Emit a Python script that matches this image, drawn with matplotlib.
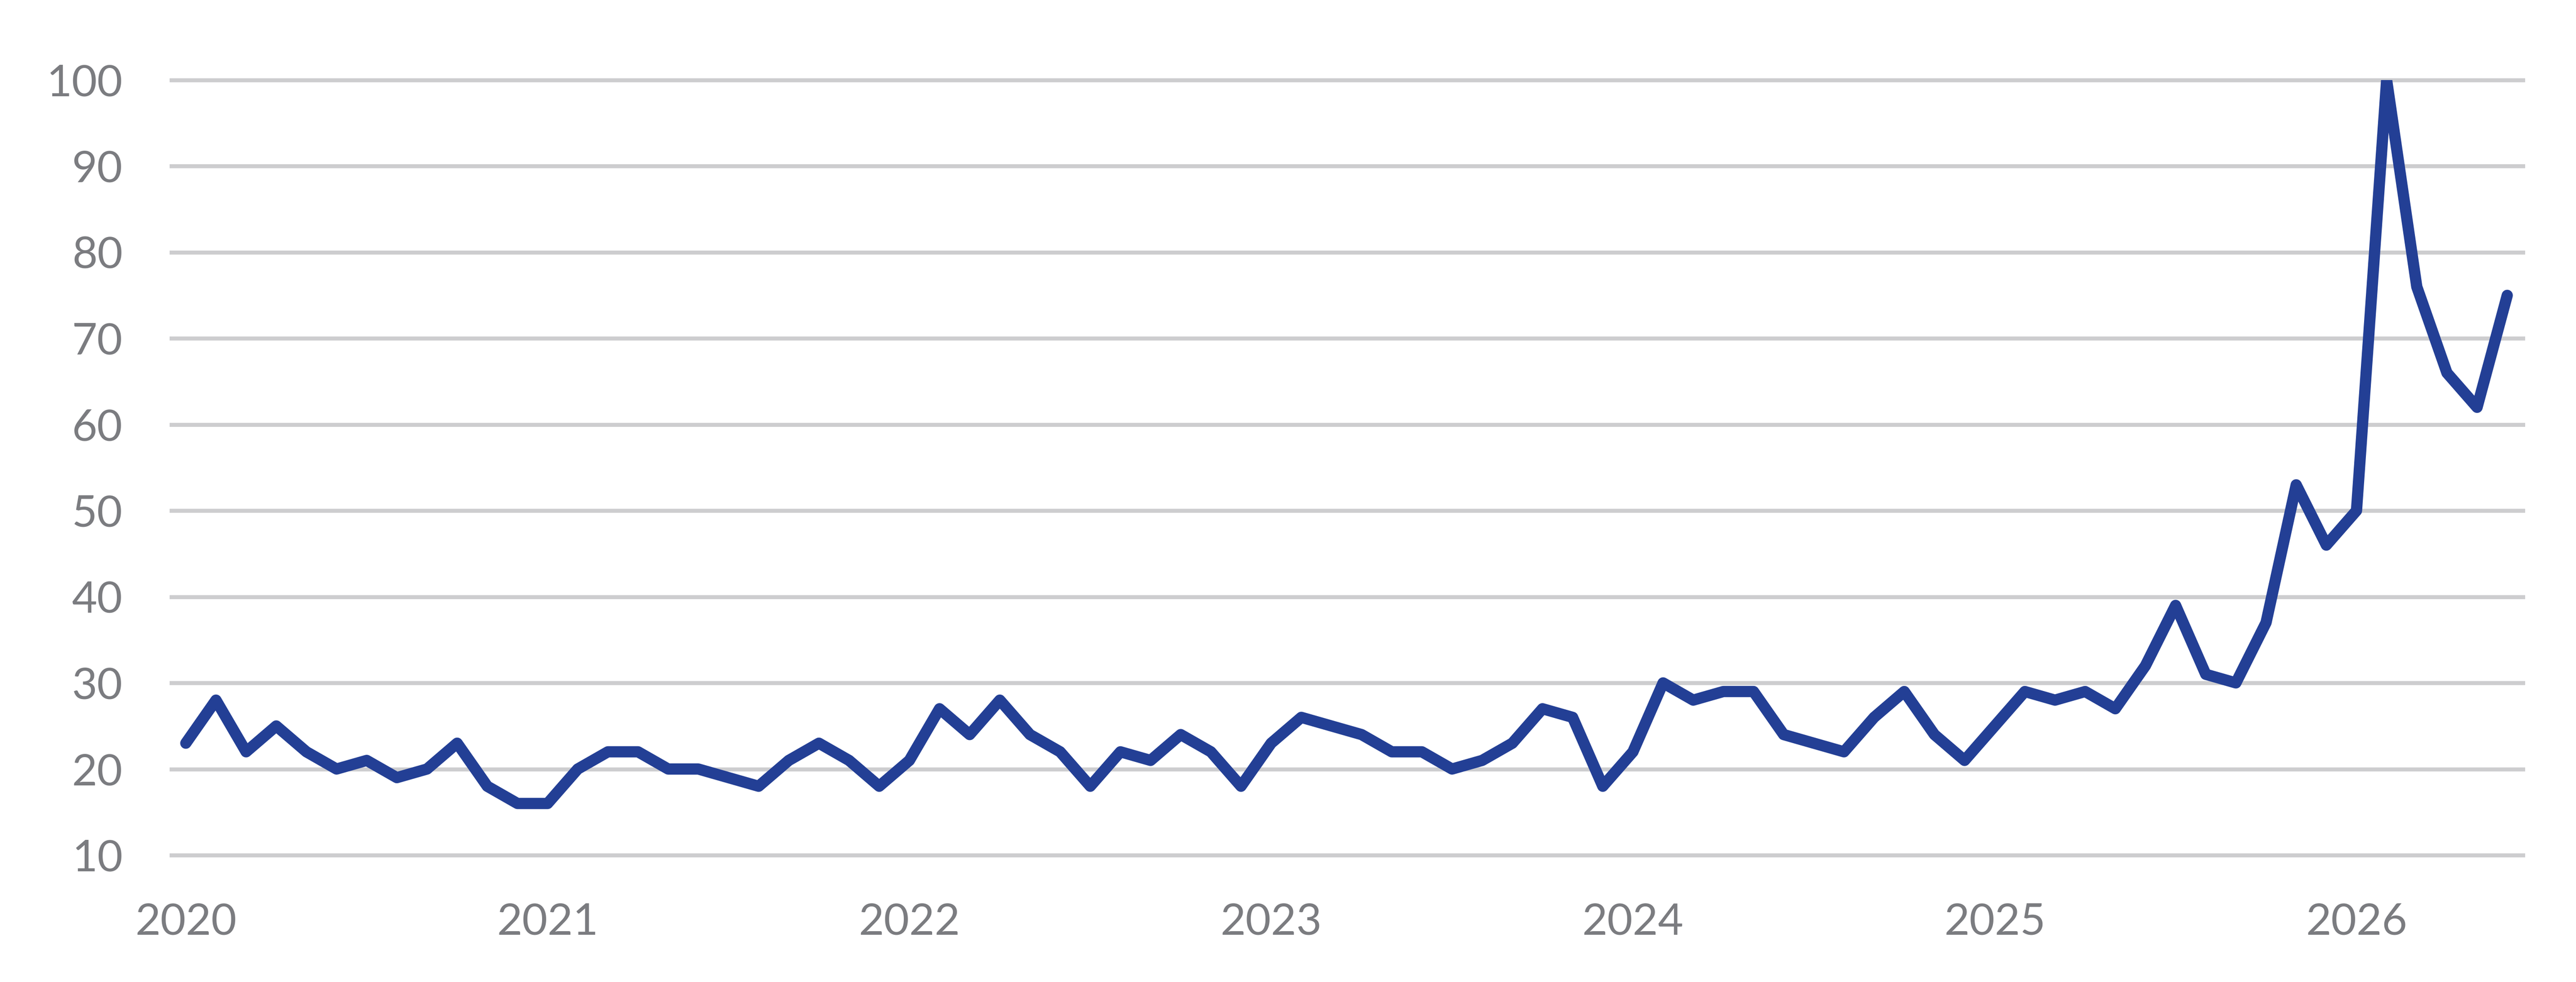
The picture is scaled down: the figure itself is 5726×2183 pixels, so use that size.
import matplotlib
matplotlib.use('Agg')
import matplotlib.pyplot as plt

# monthly values, Jan 2020 .. Jun 2026
values = [23, 28, 22, 25, 22, 20, 21, 19, 20, 23, 18, 16,
          16, 20, 22, 22, 20, 20, 19, 18, 21, 23, 21, 18,
          21, 27, 24, 28, 24, 22, 18, 22, 21, 24, 22, 18,
          23, 26, 25, 24, 22, 22, 20, 21, 23, 27, 26, 18,
          22, 30, 28, 29, 29, 24, 23, 22, 26, 29, 24, 21,
          25, 29, 28, 29, 27, 32, 39, 31, 30, 37, 53, 46,
          50, 100, 76, 66, 62, 75]
years = ['2020', '2021', '2022', '2023', '2024', '2025', '2026']
y_ticks = [10, 20, 30, 40, 50, 60, 70, 80, 90, 100]

months = list(range(len(values)))
year_pos = [12 * i for i in range(len(years))]

plt.rcParams['font.family'] = ['Lato', 'DejaVu Sans']

fig = plt.figure(figsize=(28.63, 10.915), dpi=200)
ax = fig.add_axes([0.06654, 0.12918, 0.91285, 0.78928])

ax.plot(months, values, color='#233f95', linewidth=9,
        solid_joinstyle='round', solid_capstyle='round', zorder=3)

ax.set_xlim(-0.478, 77.52)
ax.set_ylim(10, 100)
ax.set_yticks(y_ticks)
ax.set_xticks(year_pos)
ax.set_xticklabels(years)

ax.grid(axis='y', color='#cdcdcf', linewidth=3.2)
ax.grid(axis='x', visible=False)
for gl in ax.get_ygridlines():
    gl.set_clip_on(False)
ax.set_axisbelow(True)

for s in ax.spines.values():
    s.set_visible(False)
ax.tick_params(axis='both', length=0, labelsize=35, labelcolor='#7b7c80')
ax.tick_params(axis='y', pad=39)
ax.tick_params(axis='x', pad=38)

fig.savefig('out.png', dpi=200, facecolor='white')
